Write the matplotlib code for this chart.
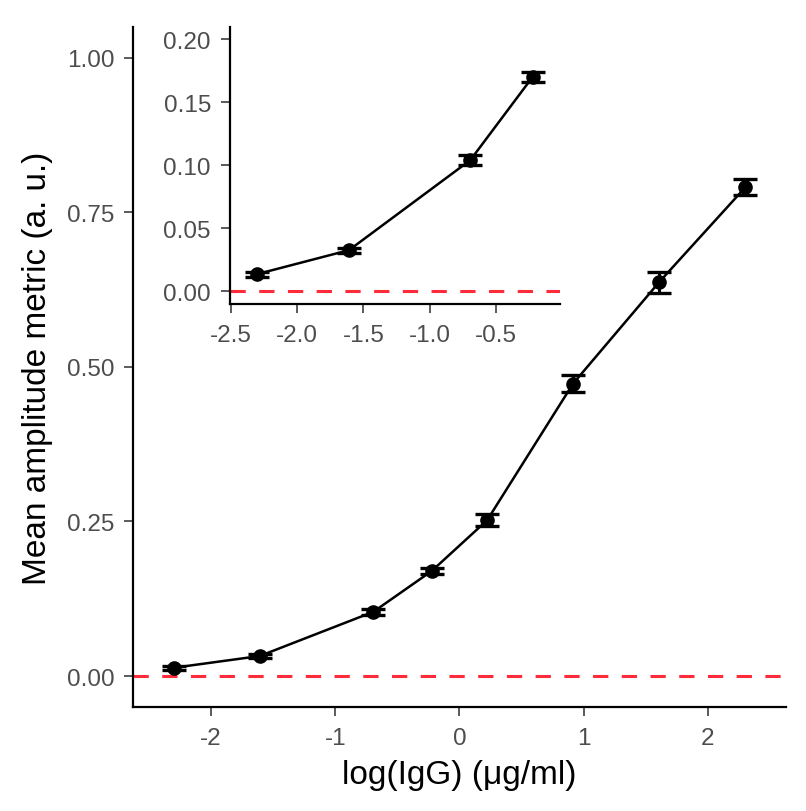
import numpy as np
import matplotlib.pyplot as plt

plt.rcParams["font.family"] = ["Liberation Sans", "DejaVu Sans"]

# IgG concentrations (ug/ml) and measured mean amplitude metric
conc = [0.1, 0.2, 0.5, 0.8, 1.25, 2.5, 5.0, 10.0]
mean_amp = [0.0135, 0.0325, 0.104, 0.170, 0.252, 0.473, 0.637, 0.790]
err_amp = [0.003, 0.003, 0.005, 0.005, 0.010, 0.013, 0.017, 0.013]
err_inset = [0.002, 0.002, 0.004, 0.004]

main_yticks = [0.0, 0.25, 0.5, 0.75, 1.0]
inset_xticks = [-2.5, -2.0, -1.5, -1.0, -0.5]
inset_yticks = [0.0, 0.05, 0.1, 0.15, 0.2]
n_inset = 4

TICK_COLOR = "#4d4d4d"


def style_axes(ax, fontsize):
    for side in ["top", "right"]:
        ax.spines[side].set_visible(False)
    for side in ["left", "bottom"]:
        ax.spines[side].set_linewidth(1.6)
        ax.spines[side].set_color("black")
    ax.tick_params(axis="both", length=6.5, width=1.3, color=TICK_COLOR,
                   labelcolor=TICK_COLOR, labelsize=fontsize)
    ax.tick_params(axis="x", pad=8)
    ax.tick_params(axis="y", pad=7)


def draw_curve(ax, x, y, e):
    ax.axhline(0, color="#ff2a3a", linestyle=(0, (5, 4.4)), linewidth=2.2, zorder=1)
    ax.plot(x, y, color="black", linewidth=1.8, zorder=2)
    ax.errorbar(x, y, yerr=e, fmt="o", color="black", markersize=9.5,
                elinewidth=2.2, capsize=8.5, capthick=2.4, zorder=3)


x = np.log(conc)

fig = plt.figure(figsize=(8.06, 8.12), dpi=100)

ax = fig.add_axes([0.165, 0.128, 0.81, 0.838])
draw_curve(ax, x, mean_amp, err_amp)
ax.set_xlim(-2.63, 2.63)
ax.set_ylim(-0.05, 1.05)
ax.set_xticks([-2, -1, 0, 1, 2])
ax.set_xticklabels(["-2", "-1", "0", "1", "2"])
ax.set_yticks(main_yticks)
ax.set_yticklabels([f"{v:.2f}" for v in main_yticks])
style_axes(ax, 17.5)
ax.set_xlabel("log(IgG) (μg/ml)", fontsize=24, labelpad=7)
ax.set_ylabel("Mean amplitude metric (a. u.)", fontsize=24, labelpad=10)

ins = fig.add_axes([0.285, 0.624, 0.41, 0.342])
draw_curve(ins, x[:n_inset], mean_amp[:n_inset], err_inset)
ins.set_xlim(-2.51, -0.015)
ins.set_ylim(-0.0105, 0.21)
ins.set_xticks(inset_xticks)
ins.set_xticklabels([f"{v:.1f}" for v in inset_xticks])
ins.set_yticks(inset_yticks)
ins.set_yticklabels([f"{v:.2f}" for v in inset_yticks])
style_axes(ins, 17.5)

fig.savefig("out.png", dpi=100)
